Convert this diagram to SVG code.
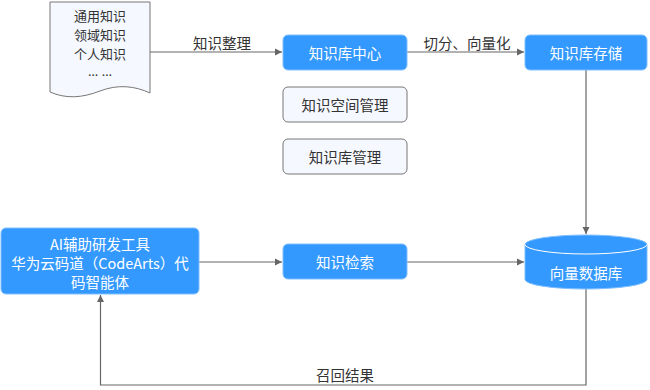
<svg xmlns="http://www.w3.org/2000/svg" width="650" height="390" viewBox="0 0 650 390">
<defs>
<marker id="arr" markerWidth="8" markerHeight="8" refX="7" refY="4" orient="auto" markerUnits="userSpaceOnUse">
<path d="M0,0.5 L7,4 L0,7.5 Z" fill="#666"/>
</marker>
<style>
text{font-family:"Noto Sans CJK SC","Noto Sans",sans-serif;font-size:14.5px;text-anchor:middle;dominant-baseline:central}
.blue{fill:#3399ff;stroke:#7fbfff;stroke-width:1}
.light{fill:#f5f8ff;stroke:#777;stroke-width:1}
.wt{fill:#fff}
.dk{fill:#333}
.ln{fill:none;stroke:#666;stroke-width:1.2}
.lat{font-family:"Noto Sans",sans-serif}
.doc{font-size:13px}
</style>
</defs>
<g id="connectors">
<path class="ln" d="M150,52 H282" marker-end="url(#arr)"/>
<path class="ln" d="M407,52 H524" marker-end="url(#arr)"/>
<path class="ln" d="M586,70 V234" marker-end="url(#arr)"/>
<path class="ln" d="M199,262 H282" marker-end="url(#arr)"/>
<path class="ln" d="M407,262 H524" marker-end="url(#arr)"/>
<path class="ln" d="M586,289 V385 H100.5 V295" marker-end="url(#arr)"/>
<text class="dk" x="222" y="42">知识整理</text>
<text class="dk" x="467" y="42">切分、向量化</text>
<text class="dk" x="345" y="374">召回结果</text>
</g>
<g id="doc">
<path class="light" d="M50,2 H150 V93 C135,86 118,84 100,91 C82,98 66,99 50,92 Z"/>
<text class="dk doc" x="100" y="15">通用知识</text>
<text class="dk doc" x="100" y="34">领域知识</text>
<text class="dk doc" x="100" y="53">个人知识</text>
<text class="dk doc lat" x="100" y="71">… …</text>
</g>
<g id="kb-center">
<rect class="blue" x="283" y="35" width="124" height="35" rx="5"/>
<text class="wt" x="345" y="52.5">知识库中心</text>
</g>
<g id="kb-storage">
<rect class="blue" x="525" y="35" width="122" height="35" rx="5"/>
<text class="wt" x="586" y="52.5">知识库存储</text>
</g>
<g id="space-mgmt">
<rect class="light" x="283" y="87" width="124" height="35" rx="5"/>
<text class="dk" x="345" y="104.5">知识空间管理</text>
</g>
<g id="kb-mgmt">
<rect class="light" x="283" y="139" width="124" height="35" rx="5"/>
<text class="dk" x="345" y="156.5">知识库管理</text>
</g>
<g id="ai">
<rect class="blue" x="1" y="228" width="198" height="66" rx="5"/>
<text class="wt" x="100" y="243">AI辅助研发工具<tspan x="100" dy="19">华为云码道（CodeArts）代</tspan><tspan x="100" dy="19">码智能体</tspan></text>
</g>
<g id="retrieve">
<rect class="blue" x="283" y="244" width="124" height="35" rx="5"/>
<text class="wt" x="345" y="261.5">知识检索</text>
</g>
<g id="vdb">
<path class="blue" d="M525,244.5 A61,9.5 0 0 1 647,244.5 V279.5 A61,9.5 0 0 1 525,279.5 Z"/>
<path d="M525,244.5 A61,9.5 0 0 0 647,244.5" fill="none" stroke="#fff" stroke-width="1"/>
<text class="wt" x="586" y="272">向量数据库</text>
</g>
</svg>
